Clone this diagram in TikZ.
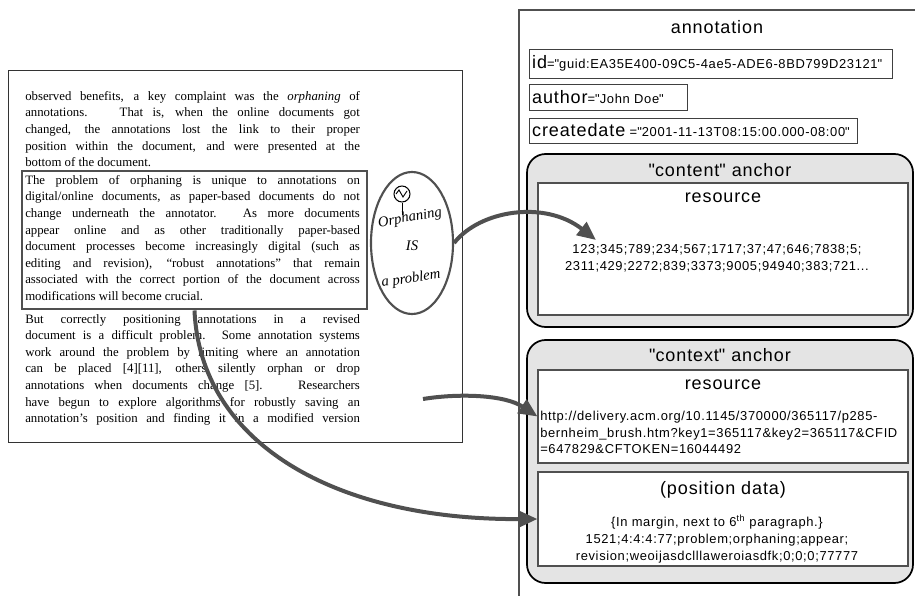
\documentclass[tikz,border=0pt]{standalone}
\usepackage{fontspec}
\setmainfont{Liberation Serif}
\setsansfont{Liberation Sans}[LetterSpace=5]
\usepackage{xcolor}
\usetikzlibrary{shapes.geometric, arrows.meta, positioning}

\definecolor{darkline}{HTML}{505050}
\definecolor{anchorfill}{HTML}{E4E4E4}

\newcommand{\jline}[1]{\makebox[251pt][s]{#1}}
\newcommand{\attrname}{\fontsize{13.5}{15}\selectfont}
\newcommand{\attrval}{\fontsize{9.7}{12}\selectfont}

\begin{document}
\begin{tikzpicture}[x=0.75pt, y=-0.75pt,
  doctext/.style={anchor=north west, inner sep=0pt, align=left,
    font=\fontsize{9.6}{12.45}\selectfont},
  hilite/.style={draw=darkline, line width=2.2pt, inner sep=0pt},
  attrbox/.style={draw=black!75, anchor=west, inner sep=2pt, align=left,
    font=\sffamily, line width=0.7pt},
  anchorbox/.style={draw=black, line width=1.3pt, fill=anchorfill,
    rounded corners=14pt, minimum width=289.5pt},
  resbox/.style={draw=darkline, line width=0.8pt, fill=white,
    minimum width=277.5pt},
  title/.style={font=\sffamily\fontsize{13.5}{15}\selectfont},
  small/.style={font=\sffamily\fontsize{9.7}{12.5}\selectfont},
  hand/.style={font=\itshape\fontsize{11}{11}\selectfont, inner sep=0pt},
  bigarrow/.style={draw=darkline, line width=3pt,
    -{Triangle[length=14pt,width=12pt]}}]

\useasboundingbox (0,0) rectangle (915,596);

% documento
\node[draw=black!80, line width=0.6pt, minimum width=340.5pt,
  minimum height=279pt, inner sep=0pt] (page) at (235,256) {};

\node[doctext] (par1) at (25,91) {%
\jline{observed benefits, a key complaint was the \textit{orphaning} of}\\
\jline{annotations. \ That is, when the online documents got}\\
\jline{changed, the annotations lost the link to their proper}\\
\jline{position within the document, and were presented at the}\\
bottom of the document.};

\node[hilite, minimum width=258.75pt, minimum height=103.5pt] (para) at (194.5,240) {};

\node[doctext] (par2) at (25,175) {%
\jline{The problem of orphaning is unique to annotations on}\\
\jline{digital/online documents, as paper-based documents do not}\\
\jline{change underneath the annotator. As more documents}\\
\jline{appear online and as other traditionally paper-based}\\
\jline{document processes become increasingly digital (such as}\\
\jline{editing and revision), ``robust annotations'' that remain}\\
\jline{associated with the correct portion of the document across}\\
modifications will become crucial.};

\node[doctext] (par3) at (25,314) {%
\jline{But correctly positioning annotations in a revised}\\
\jline{document is a difficult problem. Some annotation systems}\\
\jline{work around the problem by limiting where an annotation}\\
\jline{can be placed [4][11], others silently orphan or drop}\\
\jline{annotations when documents change [5]. \ Researchers}\\
\jline{have begun to explore algorithms for robustly saving an}\\
\jline{annotation's position and finding it in a modified version}};

% nota escrita a mao
\node[ellipse, draw=darkline, line width=1.6pt, minimum width=61.5pt,
  minimum height=106.5pt] (note) at (412,243) {};
\node[circle, draw, line width=0.8pt, minimum size=12pt, inner sep=0pt] (sym) at (402,194) {};
\draw[line width=0.7pt] (396,194) -- (399,190) -- (403,197) -- (407,191);
\draw[line width=0.7pt] (sym.south) -- ++(0,12);
\node[hand, rotate=10] (word1) at (410,218) {Orphaning};
\node[hand] (word2) at (412,246) {IS};
\node[hand, rotate=8] (word3) at (411,279) {a problem};

% anotacao
\draw[darkline, line width=1.2pt] (930,10) -- (519,10) -- (519,610);
\node[title] (annot) at (717,27) {annotation};

\node[attrbox, text width=268pt, minimum height=21.75pt] (idbox) at (529,63.5)
  {\mbox{\attrname id\attrval =\textquotedbl guid:EA35E400-09C5-4ae5-ADE6-8BD799D23121\textquotedbl}};
\node[attrbox, text width=114.5pt, minimum height=19.5pt] (authorbox) at (529,97)
  {\mbox{\attrname author\attrval =\textquotedbl John Doe\textquotedbl}};
\node[attrbox, text width=242pt, minimum height=18.75pt] (datebox) at (529,130.5)
  {\mbox{\attrname createdate \attrval =\textquotedbl 2001-11-13T08:15:00.000-08:00\textquotedbl}};

% ancora de conteudo
\node[anchorbox, minimum height=129.75pt] (canchor) at (720,240.5) {};
\node[title] at (720,170) {\textquotedbl content\textquotedbl\ anchor};
\node[resbox, minimum height=99pt] (cres) at (723,249) {};
\node[title] at (723,198) {resource};
\node[small, align=center] (cnums) at (717,258)
  {123;345;789;234;567;1717;37;47;646;7838;5;\\
   2311;429;2272;839;3373;9005;94940;383;721...};
\coordinate (ctip) at (596,240);

% ancora de contexto
\node[anchorbox, minimum height=182.25pt] (xanchor) at (720,461.5) {};
\node[title] at (720,355) {\textquotedbl context\textquotedbl\ anchor};
\node[resbox, minimum height=69.75pt] (xres) at (723,416.5) {};
\node[title] at (723,385) {resource};
\node[small, align=left, anchor=north west, inner sep=0pt] (url) at (540,411)
  {http://delivery.acm.org/10.1145/370000/365117/p285-\\
   bernheim\_brush.htm?key1=365117\&key2=365117\&CFID\\
   =647829\&CFTOKEN=16044492};
\node[resbox, minimum height=70.5pt] (posdata) at (723,519) {};
\node[title] at (723,490) {(position data)};
\node[small, align=center] (pos) at (717,539)
  {\{In margin, next to 6\textsuperscript{th} paragraph.\}\\
   1521;4:4:4:77;problem;orphaning;appear;\\
   revision;weoijasdclllaweroiasdfk;0;0;0;77777};

% setas
\coordinate (xstart) at (423,399);
\draw[bigarrow] (note.east) .. controls (480,210) and (545,200) .. (ctip);
\draw[bigarrow] (xstart) .. controls (460,393) and (505,395) .. (xres.west);
\draw[bigarrow] (para.south) .. controls (200,440) and (330,520) .. (posdata.west);

\end{tikzpicture}
\end{document}
